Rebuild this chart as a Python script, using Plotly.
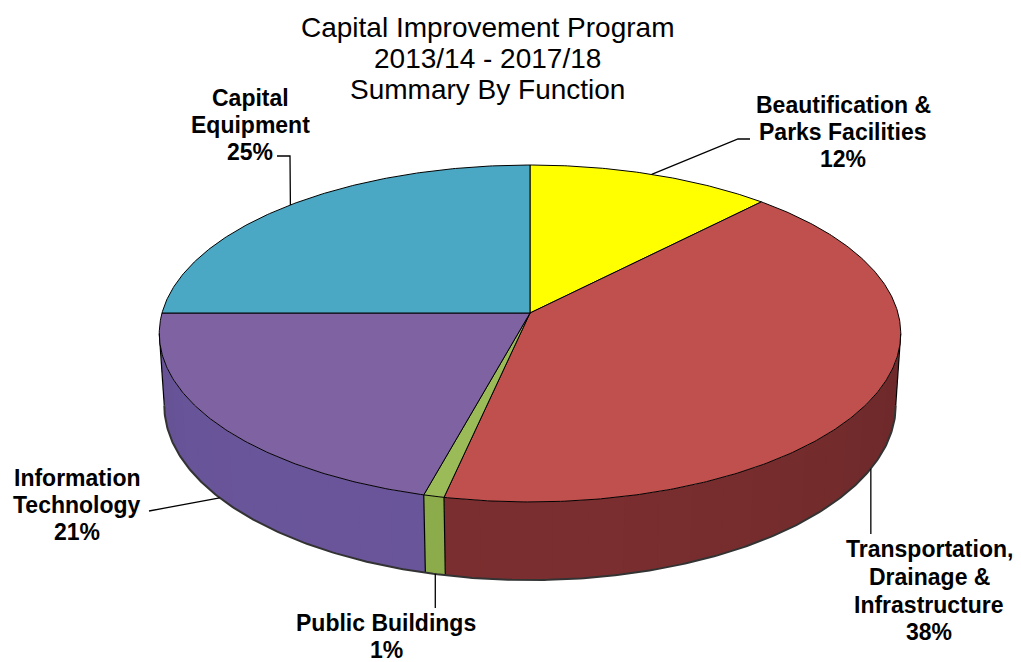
import numpy as np
import plotly.graph_objects as go

# ---------------- data ----------------
categories = [
    "Beautification & Parks Facilities",
    "Transportation, Drainage & Infrastructure",
    "Public Buildings",
    "Information Technology",
    "Capital Equipment",
]
values = [12.0, 41.3, 0.8, 20.9, 25.0]          # slice sizes as drawn
pct_labels = ["12%", "38%", "1%", "21%", "25%"]  # percentages printed on the chart
label_lines = [
    ["Beautification &", "Parks Facilities"],
    ["Transportation,", "Drainage &", "Infrastructure"],
    ["Public Buildings"],
    ["Information", "Technology"],
    ["Capital", "Equipment"],
]
title_lines = ["Capital Improvement Program", "2013/14 - 2017/18", "Summary By Function"]

# ---------------- styles ----------------
top_colors = ["#ffff00", "#c0504d", "#9bbb59", "#7f62a1", "#4aa8c4"]
side_rgb = [(156, 156, 0), (122, 46, 47), (138, 168, 74), (104, 84, 152), (47, 126, 150)]

W, H = 1021, 662
OFF = 8  # page body margin of the html page
CX, CY = 530.0, 313.0
F, D0 = 2701.0, 7.34
SA = 0.451
CA = float(np.sqrt(1 - SA ** 2))
THICK = 0.22


def proj(theta_deg, z):
    t = np.radians(theta_deg)
    X = np.sin(t)
    Y = np.cos(t)
    up = Y * SA + z * CA
    depth = D0 + Y * CA - z * SA
    return CX + F * X / depth, CY - F * up / depth


bounds = np.concatenate([[0.0], np.cumsum(values)]) / np.sum(values) * 360.0

# silhouette of the cylinder
grid = np.linspace(0, 360, 36001)
gx, _ = proj(grid, 0.0)
mr = (grid > 45) & (grid < 135)
ml = (grid > 225) & (grid < 315)
th_right = grid[mr][np.argmax(gx[mr])]
th_left = grid[ml][np.argmin(gx[ml])]

fig = go.Figure()


def add_poly(xs, ys, fill, line_color=None, lw=0.0):
    fig.add_trace(go.Scatter(
        x=list(xs), y=list(ys), mode="lines", fill="toself", fillcolor=fill,
        line=dict(color=line_color or fill, width=lw),
        hoverinfo="skip", showlegend=False))


def add_line(xs, ys, color="#000000", lw=1.0):
    fig.add_trace(go.Scatter(
        x=list(xs), y=list(ys), mode="lines", line=dict(color=color, width=lw),
        hoverinfo="skip", showlegend=False))


# ---------------- side walls (front, visible part) ----------------
for i in range(len(values)):
    a0 = max(bounds[i], th_right)
    a1 = min(bounds[i + 1], th_left)
    if a1 <= a0:
        continue
    n_strips = max(1, int(np.ceil((a1 - a0) / 5.0)))
    edges = np.linspace(a0, a1, n_strips + 1)
    for k in range(n_strips):
        e1 = min(a1, edges[k + 1] + 0.8)
        tt = np.linspace(edges[k], e1, 6)
        xt, yt = proj(tt, 0.0)
        xb, yb = proj(tt[::-1], -THICK)
        mid = 0.5 * (edges[k] + edges[k + 1])
        f = 0.92 + 0.10 * np.cos(np.radians(mid - 205.0))
        r, g, b = [int(min(255, c * f)) for c in side_rgb[i]]
        col = f"rgb({r},{g},{b})"
        add_poly(np.concatenate([xt, xb]), np.concatenate([yt, yb]), col, col, 0.0)

# side outlines: slice boundaries on the wall, silhouettes, bottom rim
for b_ang in list(bounds[1:-1]) + [th_right, th_left]:
    if th_right <= b_ang <= th_left:
        x0, y0 = proj(b_ang, 0.0)
        x1, y1 = proj(b_ang, -THICK)
        add_line([x0, x1], [y0, y1], "#000000", 1.2)
tt = np.linspace(th_right, th_left, 300)
xb, yb = proj(tt, -THICK)
add_line(xb, yb, "#333333", 2.0)

# ---------------- top faces ----------------
for i in range(len(values)):
    tt = np.linspace(bounds[i], bounds[i + 1], max(3, int((bounds[i + 1] - bounds[i]) * 2)))
    xt, yt = proj(tt, 0.0)
    add_poly(np.concatenate([[CX], xt, [CX]]), np.concatenate([[CY], yt, [CY]]),
             top_colors[i], "#000000", 1.0)

# ---------------- leader lines ----------------
mids = 0.5 * (bounds[:-1] + bounds[1:])

ax_, ay_ = proj(mids[0], 0.0)
add_line([ax_, 738, 750], [ay_, 139, 139], "#000000", 1.3)
ax_, ay_ = proj(mids[1], -THICK)
add_line([ax_, ax_], [ay_, 534], "#000000", 1.3)
ax_, ay_ = proj(mids[2], -THICK)
add_line([ax_, ax_], [ay_, 608], "#000000", 1.3)
ax_, ay_ = proj(mids[3], -THICK)
add_line([ax_, 149], [ay_, 511], "#000000", 1.3)
ax_, ay_ = proj(mids[4], 0.0)
add_line([ax_, 290, 277], [ay_, 156, 156], "#000000", 1.3)

# ---------------- text ----------------
lbl_font = dict(family="Liberation Sans, Arial, sans-serif", size=23, color="#000000")
annotations = []
label_pos = [
    (843, [105, 132, 159]),
    (929, [549, 577, 605, 632]),
    (386, [623, 650]),
    (77, [478, 505, 532]),
    (250, [98, 125, 152]),
]
for i, (lx, ys) in enumerate(label_pos):
    lines = label_lines[i] + [pct_labels[i]]
    for txt, ly in zip(lines, ys):
        annotations.append(dict(x=lx, y=ly, xref="x", yref="y", text=f"<b>{txt}</b>",
                                showarrow=False, xanchor="center", yanchor="middle",
                                font=lbl_font))

title_font = dict(family="Liberation Sans, Arial, sans-serif", size=28, color="#000000")
for txt, ty in zip(title_lines, [27, 58, 89]):
    annotations.append(dict(x=487, y=ty, xref="x", yref="y", text=txt, showarrow=False,
                            xanchor="center", yanchor="middle", font=title_font))

fig.update_layout(
    width=W - OFF, height=H - OFF,
    margin=dict(l=0, r=0, t=0, b=0),
    paper_bgcolor="#ffffff", plot_bgcolor="#ffffff",
    xaxis=dict(range=[OFF, W], visible=False, fixedrange=True),
    yaxis=dict(range=[H, OFF], visible=False, fixedrange=True),
    annotations=annotations,
    showlegend=False,
)

fig.write_html("out.html")
